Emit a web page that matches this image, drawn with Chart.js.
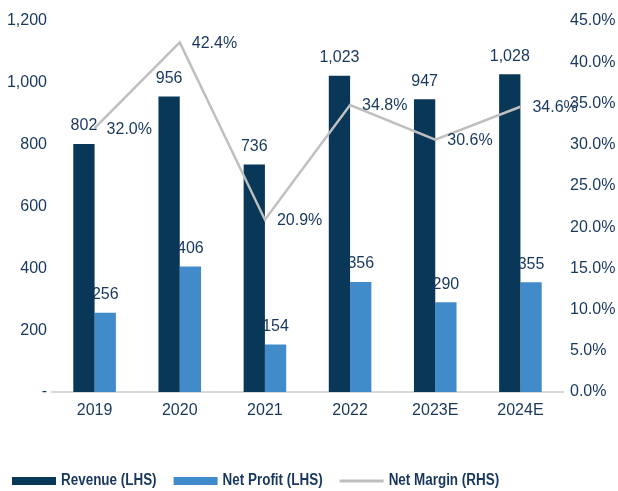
<!DOCTYPE html>
<html>
<head>
<meta charset="utf-8">
<script src="https://cdn.jsdelivr.net/npm/chart.js@4.4.0/dist/chart.umd.min.js"></script>
<style>
    html, body { margin: 0; padding: 0; background: #fff; }
</style>
</head>
<body>
<canvas id="chart-revenue" width="618" height="491"></canvas>
<script>
const years = ['2019', '2020', '2021', '2022', '2023E', '2024E'];
const revenue = [802, 956, 736, 1023, 947, 1028];
const netProfit = [256, 406, 154, 356, 290, 355];
const netMargin = [32.0, 42.4, 20.9, 34.8, 30.6, 34.6];

const textColor = '#17375e';
const fontFamily = '"Liberation Sans", Arial, Helvetica, sans-serif';

// value labels on top of bars / right of line points
const valueLabels = {
    id: 'valueLabels',
    afterDatasetsDraw(chart) {
        const ctx = chart.ctx;
        ctx.save();
        ctx.font = '16px ' + fontFamily;
        ctx.fillStyle = textColor;
        ctx.textBaseline = 'middle';
        chart.data.datasets.forEach(function (ds, i) {
            const meta = chart.getDatasetMeta(i);
            meta.data.forEach(function (el, j) {
                if (ds.type === 'line') {
                    ctx.textAlign = 'left';
                    ctx.fillText(ds.data[j].toFixed(1) + '%', el.x + 12, el.y + 1);
                } else {
                    ctx.textAlign = 'center';
                    ctx.fillText(ds.data[j].toLocaleString('en-US'), el.x, el.y - 18);
                }
            });
        });
        ctx.restore();
    }
};

// legend drawn by hand at the bottom left (narrow bold text)
const bottomLegend = {
    id: 'bottomLegend',
    afterDraw(chart) {
        const ctx = chart.ctx;
        const yc = 481;
        const squeeze = 0.84;
        let x = 12;
        ctx.save();
        ctx.font = 'bold 16px ' + fontFamily;
        ctx.textBaseline = 'middle';
        ctx.textAlign = 'left';
        chart.data.datasets.slice().sort((a, b) => a.legendPos - b.legendPos).forEach(function (ds) {
            if (ds.type === 'line') {
                ctx.fillStyle = ds.borderColor;
                ctx.fillRect(x, yc - 1.5, 44, 3);
            } else {
                ctx.fillStyle = ds.backgroundColor;
                ctx.fillRect(x, yc - 4, 44, 8);
            }
            x += 49;
            ctx.save();
            ctx.translate(x, yc);
            ctx.scale(squeeze, 1);
            ctx.fillStyle = textColor;
            ctx.fillText(ds.label, 0, 0);
            ctx.restore();
            x += ctx.measureText(ds.label).width * squeeze + 17;
        });
        ctx.restore();
    }
};

new Chart(document.getElementById('chart-revenue'), {
    data: {
        labels: years,
        datasets: [
            {
                type: 'line',
                label: 'Net Margin (RHS)',
                data: netMargin,
                yAxisID: 'y1',
                borderColor: '#bfbfbf',
                borderWidth: 2.5,
                pointRadius: 0,
                tension: 0,
                order: 0,
                legendPos: 2
            },
            {
                type: 'bar',
                label: 'Revenue (LHS)',
                data: revenue,
                yAxisID: 'y',
                backgroundColor: '#083757',
                categoryPercentage: 0.5,
                barPercentage: 1.0,
                order: 1,
                legendPos: 0
            },
            {
                type: 'bar',
                label: 'Net Profit (LHS)',
                data: netProfit,
                yAxisID: 'y',
                backgroundColor: '#428bca',
                categoryPercentage: 0.5,
                barPercentage: 1.0,
                order: 1,
                legendPos: 1
            }
        ]
    },
    options: {
        responsive: false,
        animation: false,
        layout: { padding: { top: 21, bottom: 69, left: 0, right: 0 } },
        plugins: {
            legend: { display: false },
            tooltip: { enabled: false }
        },
        scales: {
            x: {
                grid: { display: false, drawTicks: false },
                border: { display: true, color: '#d9d9d9', width: 2 },
                ticks: { color: textColor, font: { family: fontFamily, size: 16 }, padding: 9 },
                afterFit(scale) { scale.height = 30; }
            },
            y: {
                position: 'left',
                min: 0,
                max: 1200,
                grid: { display: false, drawTicks: false },
                border: { display: false },
                ticks: {
                    stepSize: 200,
                    color: textColor,
                    font: { family: fontFamily, size: 16 },
                    padding: 5,
                    callback: function (v) { return v === 0 ? '-' : v.toLocaleString('en-US'); }
                },
                afterFit(scale) { scale.width = 52; }
            },
            y1: {
                position: 'right',
                min: 0,
                max: 45,
                grid: { display: false, drawTicks: false },
                border: { display: false },
                ticks: {
                    stepSize: 5,
                    color: textColor,
                    font: { family: fontFamily, size: 16 },
                    padding: 7,
                    callback: function (v) { return v.toFixed(1) + '%'; }
                },
                afterFit(scale) { scale.width = 55; }
            }
        }
    },
    plugins: [valueLabels, bottomLegend]
});
</script>
</body>
</html>
